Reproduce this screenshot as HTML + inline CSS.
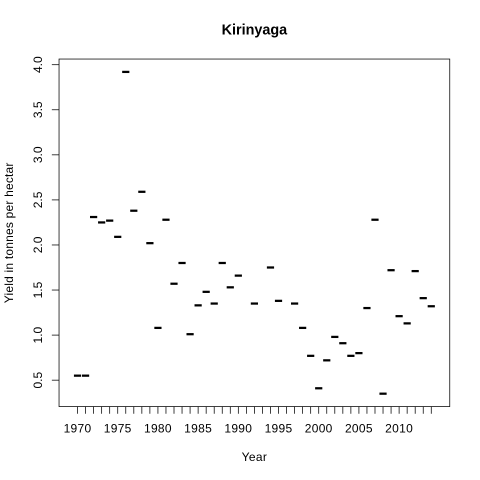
<!DOCTYPE html>
<html>
<head>
<meta charset="utf-8">
<title>Kirinyaga</title>
<style>
html,body{margin:0;padding:0;background:#fff;}
svg{display:block;}
text{font-family:"Liberation Sans",sans-serif;fill:#000;}
</style>
</head>
<body>
<svg id="chart" xmlns="http://www.w3.org/2000/svg" width="480" height="480" viewBox="0 0 480 480">
<rect x="0" y="0" width="480" height="480" fill="#fff"/>
<text x="254.4" y="34.5" font-size="14.4" font-weight="bold" text-anchor="middle">Kirinyaga</text>
<text x="254.4" y="461" font-size="12" text-anchor="middle" letter-spacing="0.3">Year</text>
<text transform="translate(13,232.8) rotate(-90)" font-size="12" text-anchor="middle" letter-spacing="0.2">Yield in tonnes per hectar</text>
<g id="marks"></g>
<g id="axes"></g>
<rect x="59.04" y="59.04" width="390.72" height="347.52" fill="none" stroke="#000" stroke-width="0.75"/>
</svg>
<script>
const years = [1970,1971,1972,1973,1974,1975,1976,1977,1978,1979,1980,1981,1982,1983,1984,1985,1986,1987,1988,1989,1990,1991,1992,1993,1994,1995,1996,1997,1998,1999,2000,2001,2002,2003,2004,2005,2006,2007,2008,2009,2010,2011,2012,2013,2014];
const yields = [0.55,0.55,2.31,2.25,2.27,2.09,3.92,2.38,2.59,2.02,1.08,2.28,1.57,1.80,1.01,1.33,1.48,1.35,1.80,1.53,1.66,null,1.35,null,1.75,1.38,null,1.35,1.08,0.77,0.41,0.72,0.98,0.91,0.77,0.80,1.30,2.28,0.35,1.72,1.21,1.13,1.71,1.41,1.32];
const xTickLabels = [1970,1975,1980,1985,1990,1995,2000,2005,2010];
const yTickValues = [0.5,1.0,1.5,2.0,2.5,3.0,3.5,4.0];
const yDomain = [0.2072,4.0628];

const NS = 'http://www.w3.org/2000/svg';
const plotLeft = 59.04, plotRight = 449.76, plotTop = 59.04, plotBottom = 406.56;
function xPos(year){
  const idx = years.indexOf(year) + 1;
  return plotLeft + (idx + 1.3) * (plotRight - plotLeft) / 48.6;
}
function yPos(v){
  return plotBottom - (v - yDomain[0]) * (plotBottom - plotTop) / (yDomain[1] - yDomain[0]);
}
function make(tag, attrs, parent){
  const el = document.createElementNS(NS, tag);
  for (const k in attrs) el.setAttribute(k, attrs[k]);
  parent.appendChild(el);
  return el;
}
const marks = document.getElementById('marks');
const axes = document.getElementById('axes');

years.forEach(function(year, i){
  const v = yields[i];
  if (v === null) return;
  const m = make('line', {x1:xPos(year)-3.6, x2:xPos(year)+3.6, y1:yPos(v), y2:yPos(v), stroke:'#000', 'stroke-width':2.25}, marks);
  
  
});

years.forEach(function(year){
  const t = make('line', {x1:xPos(year), x2:xPos(year), y1:plotBottom, y2:plotBottom+7.2, stroke:'#000', 'stroke-width':0.75}, axes);
  
  
});

xTickLabels.forEach(function(year){
  const l = make('text', {x:xPos(year), y:432.5, 'font-size':12, 'text-anchor':'middle', 'letter-spacing':'0.3'}, axes);
  l.textContent = String(year);
  
  
});

yTickValues.forEach(function(v){
  const y = yPos(v);
  const t = make('line', {x1:plotLeft-7.2, x2:plotLeft, y1:y, y2:y, stroke:'#000', 'stroke-width':0.75}, axes);
  
  
  const l = make('text', {transform:'translate(42,' + y + ') rotate(-90)', 'font-size':12, 'text-anchor':'middle'}, axes);
  l.textContent = v.toFixed(1);
  
  
});
</script>
</body>
</html>
